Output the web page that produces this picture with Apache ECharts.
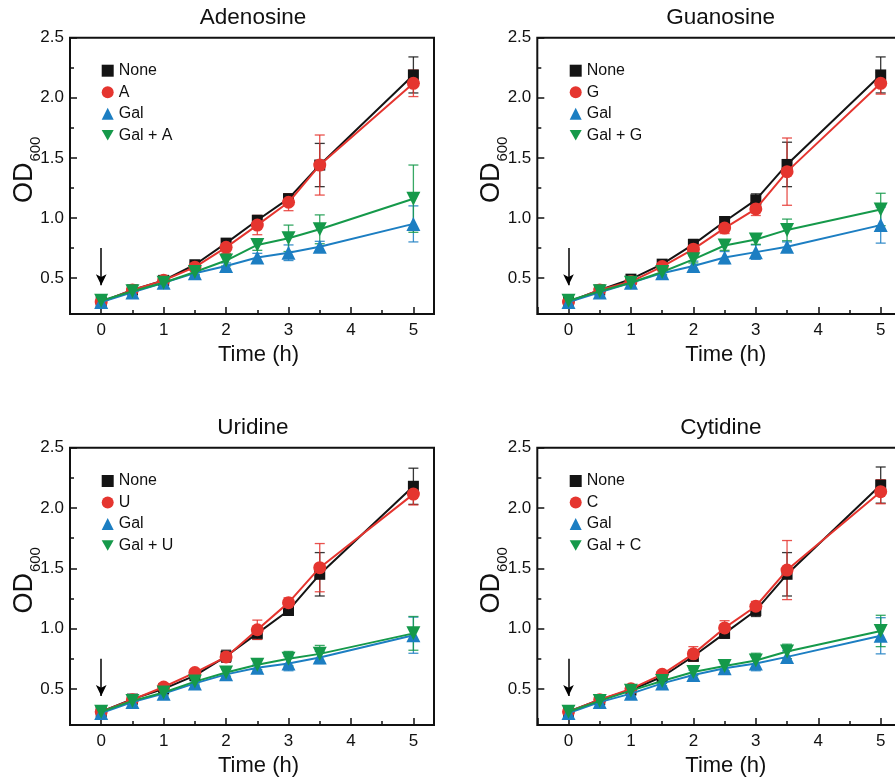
<!DOCTYPE html>
<html><head><meta charset="utf-8">
<script src="https://cdn.jsdelivr.net/npm/echarts@6/dist/echarts.min.js"></script>
<style>html,body{margin:0;padding:0;background:#fff}#c{width:895px;height:780px}</style>
</head><body><div id="c"></div>
<script>
// ---------- data ----------
const times = [0, 0.5, 1, 1.5, 2, 2.5, 3, 3.5, 5];
const xTickLabels = [0, 1, 2, 3, 4, 5];
const yTickLabels = [0.5, 1.0, 1.5, 2.0, 2.5];
const panelTitles = ['Adenosine', 'Guanosine', 'Uridine', 'Cytidine'];
const panelSeriesNames = [
  ['None', 'A', 'Gal', 'Gal + A'],
  ['None', 'G', 'Gal', 'Gal + G'],
  ['None', 'U', 'Gal', 'Gal + U'],
  ['None', 'C', 'Gal', 'Gal + C']
];
// arrow marking addition time: [x, top, tip]
const arrowMark = [0, 0.75, 0.44];

// Adenosine
const adeNone   = [0.30, 0.40, 0.48, 0.61, 0.79, 0.98, 1.16, 1.44, 2.19];
const adeNoneSd = [0.01, 0.02, 0.02, 0.02, 0.03, 0.04, 0.04, 0.18, 0.15];
const adeA      = [0.30, 0.40, 0.48, 0.59, 0.755, 0.94, 1.13, 1.44, 2.12];
const adeASd    = [0.01, 0.02, 0.02, 0.02, 0.05, 0.08, 0.07, 0.25, 0.11];
const adeGal    = [0.30, 0.38, 0.46, 0.54, 0.60, 0.67, 0.71, 0.76, 0.95];
const adeGalSd  = [0.01, 0.01, 0.02, 0.02, 0.025, 0.035, 0.065, 0.045, 0.15];
const adeGalA   = [0.31, 0.39, 0.46, 0.55, 0.645, 0.775, 0.83, 0.905, 1.16];
const adeGalASd = [0.01, 0.02, 0.02, 0.02, 0.045, 0.045, 0.11, 0.12, 0.28];

// Guanosine
const guaNone   = [0.30, 0.40, 0.49, 0.615, 0.78, 0.97, 1.15, 1.445, 2.19];
const guaNoneSd = [0.01, 0.02, 0.02, 0.02, 0.04, 0.04, 0.05, 0.185, 0.15];
const guaG      = [0.30, 0.40, 0.47, 0.595, 0.74, 0.915, 1.075, 1.385, 2.12];
const guaGSd    = [0.01, 0.02, 0.02, 0.02, 0.04, 0.045, 0.055, 0.28, 0.09];
const guaGal    = [0.30, 0.38, 0.46, 0.54, 0.60, 0.67, 0.715, 0.76, 0.94];
const guaGalSd  = [0.01, 0.01, 0.02, 0.02, 0.04, 0.05, 0.06, 0.04, 0.15];
const guaGalG   = [0.31, 0.39, 0.46, 0.55, 0.655, 0.77, 0.82, 0.90, 1.07];
const guaGalGSd = [0.01, 0.02, 0.02, 0.02, 0.03, 0.04, 0.04, 0.09, 0.135];

// Uridine
const uriNone   = [0.31, 0.415, 0.50, 0.61, 0.77, 0.96, 1.15, 1.45, 2.18];
const uriNoneSd = [0.01, 0.02, 0.02, 0.02, 0.05, 0.05, 0.04, 0.18, 0.15];
const uriU      = [0.31, 0.41, 0.515, 0.635, 0.765, 0.99, 1.215, 1.505, 2.115];
const uriUSd    = [0.01, 0.02, 0.02, 0.02, 0.04, 0.08, 0.04, 0.20, 0.09];
const uriGal    = [0.30, 0.39, 0.46, 0.545, 0.62, 0.675, 0.71, 0.76, 0.945];
const uriGalSd  = [0.01, 0.02, 0.02, 0.02, 0.04, 0.03, 0.06, 0.05, 0.15];
const uriGalU   = [0.31, 0.40, 0.47, 0.56, 0.635, 0.70, 0.75, 0.79, 0.96];
const uriGalUSd = [0.01, 0.02, 0.02, 0.02, 0.03, 0.04, 0.06, 0.07, 0.14];

// Cytidine
const cytNone   = [0.31, 0.41, 0.49, 0.60, 0.77, 0.96, 1.15, 1.45, 2.19];
const cytNoneSd = [0.01, 0.02, 0.02, 0.02, 0.04, 0.04, 0.05, 0.18, 0.15];
const cytC      = [0.31, 0.41, 0.50, 0.62, 0.79, 1.005, 1.185, 1.485, 2.135];
const cytCSd    = [0.01, 0.02, 0.02, 0.02, 0.06, 0.06, 0.04, 0.245, 0.10];
const cytGal    = [0.30, 0.39, 0.46, 0.545, 0.615, 0.67, 0.71, 0.765, 0.94];
const cytGalSd  = [0.01, 0.02, 0.02, 0.02, 0.04, 0.04, 0.06, 0.05, 0.15];
const cytGalC   = [0.31, 0.40, 0.485, 0.565, 0.64, 0.69, 0.735, 0.81, 0.98];
const cytGalCSd = [0.01, 0.02, 0.02, 0.02, 0.03, 0.04, 0.06, 0.06, 0.13];

const panelValues = [
  [adeNone, adeA, adeGal, adeGalA],
  [guaNone, guaG, guaGal, guaGalG],
  [uriNone, uriU, uriGal, uriGalU],
  [cytNone, cytC, cytGal, cytGalC]
];
const panelSd = [
  [adeNoneSd, adeASd, adeGalSd, adeGalASd],
  [guaNoneSd, guaGSd, guaGalSd, guaGalGSd],
  [uriNoneSd, uriUSd, uriGalSd, uriGalUSd],
  [cytNoneSd, cytCSd, cytGalSd, cytGalCSd]
];

// ---------- styling / layout ----------
const FONT = '"Liberation Sans", Arial, Helvetica, sans-serif';
const INK = '#111111';
const colors = ['#141414', '#e5352f', '#1c7ec2', '#15994a'];
const symbols = ['rect', 'circle', 'triangle', 'triangle'];
const symbolSizes = [11, 13, 14, 14];
const symbolRotates = [0, 0, 0, 180];
const legendIcons = ['rect', 'circle', 'triangle', 'path://M0,0L12,0L6,10.4Z'];
const Y_MIN = 0.2, Y_MAX = 2.5, X_MIN = -0.5, X_MAX = 5.33;

const layouts = [
  {left: 70,    top: 37.7,  width: 364, height: 276.3, titleX: 253,   titleY: 17.7,  legL: 101.7, legT: 62.7},
  {left: 537.3, top: 37.7,  width: 364, height: 276.3, titleX: 720.7, titleY: 17.7,  legL: 569.7, legT: 62.7},
  {left: 70,    top: 447.7, width: 364, height: 277.3, titleX: 252.8, titleY: 427.5, legL: 101.7, legT: 473},
  {left: 537.3, top: 447.7, width: 364, height: 277.3, titleX: 720.8, titleY: 427.5, legL: 569.7, legT: 473}
];

const grids = [], xAxes = [], yAxes = [], series = [], legends = [], graphics = [];

const xFmt = v => (Math.abs(v - Math.round(v)) < 1e-6 && xTickLabels.indexOf(Math.round(v)) >= 0) ? String(Math.round(v)) : '';
const yFmt = v => {
  const hit = yTickLabels.find(t => Math.abs(t - v) < 1e-6);
  return hit === undefined ? '' : hit.toFixed(1);
};

function errRenderer(color) {
  return function (params, api) {
    const x = api.value(0), lo = api.value(1), hi = api.value(2);
    const a = api.coord([x, lo]), b = api.coord([x, hi]);
    const w = 5;
    const st = {stroke: color, lineWidth: 1.3, opacity: 0.85};
    return {type: 'group', children: [
      {type: 'line', shape: {x1: a[0], y1: a[1], x2: b[0], y2: b[1]}, style: st},
      {type: 'line', shape: {x1: b[0] - w, y1: b[1], x2: b[0] + w, y2: b[1]}, style: st},
      {type: 'line', shape: {x1: a[0] - w, y1: a[1], x2: a[0] + w, y2: a[1]}, style: st}
    ]};
  };
}

layouts.forEach((L, p) => {
  grids.push({left: L.left, top: L.top, width: L.width, height: L.height,
    outerBoundsMode: 'none', containLabel: false,
    show: true, borderColor: INK, borderWidth: 2, backgroundColor: 'transparent'});
  xAxes.push({type: 'value', gridIndex: p, min: X_MIN, max: X_MAX, minInterval: 1, maxInterval: 1,
    axisLine: {show: false, onZero: false},
    axisTick: {show: true, inside: true, length: 7, lineStyle: {color: INK, width: 1.5}},
    minorTick: {show: true, splitNumber: 2, length: 4, lineStyle: {color: INK, width: 1.5}},
    splitLine: {show: false}, minorSplitLine: {show: false},
    axisLabel: {margin: 8, fontSize: 17, color: INK, fontFamily: FONT, formatter: xFmt},
    name: 'Time (h)', nameLocation: 'middle', nameGap: 30, nameMoveOverlap: false,
    nameTextStyle: {fontSize: 22, color: INK, fontFamily: FONT, padding: [0, 0, 0, 13]}
  });
  yAxes.push({type: 'value', gridIndex: p, min: Y_MIN, max: Y_MAX, minInterval: 0.5, maxInterval: 0.5,
    axisLine: {show: false, onZero: false},
    axisTick: {show: true, inside: true, length: 7, lineStyle: {color: INK, width: 1.5}},
    splitLine: {show: false},
    axisLabel: {margin: 6, fontSize: 17, color: INK, fontFamily: FONT, formatter: yFmt},
    name: '{a|OD}{b|600}', nameLocation: 'middle', nameGap: 32, nameRotate: 90, nameMoveOverlap: false,
    nameTextStyle: {padding: [0, 0, 0, 12], rich: {
      a: {fontSize: 27, lineHeight: 27, fontFamily: FONT, color: INK, verticalAlign: 'top'},
      b: {fontSize: 15, lineHeight: 15, fontFamily: FONT, color: INK, verticalAlign: 'top', padding: [17, 0, 0, 1]}
    }}
  });
  graphics.push({type: 'text', x: L.titleX, y: L.titleY, silent: true,
    style: {text: panelTitles[p], font: '22.5px ' + FONT, fill: INK, textAlign: 'center', textVerticalAlign: 'middle'}});

  const names = panelSeriesNames[p];
  legends.push({orient: 'vertical', left: L.legL, top: L.legT, itemWidth: 12, itemHeight: 12, itemGap: 5.5,
    selectedMode: false, padding: 0,
    textStyle: {fontSize: 16, lineHeight: 16, color: INK, fontFamily: FONT},
    data: names.map((n, k) => ({name: n, icon: legendIcons[k], itemStyle: {color: colors[k]}}))
  });

  names.forEach((n, k) => {
    const vals = panelValues[p][k], sd = panelSd[p][k];
    series.push({type: 'custom', xAxisIndex: p, yAxisIndex: p, z: 1,
      renderItem: errRenderer(colors[k]), encode: {x: 0, y: [1, 2]},
      data: times.map((t, i) => [t, vals[i] - sd[i], vals[i] + sd[i]])});
  });
  names.forEach((n, k) => {
    const vals = panelValues[p][k];
    const s = {type: 'line', name: n, xAxisIndex: p, yAxisIndex: p, z: 3 + k,
      data: times.map((t, i) => [t, vals[i]]),
      symbol: symbols[k], symbolSize: symbolSizes[k], symbolRotate: symbolRotates[k], showSymbol: true,
      itemStyle: {color: colors[k], opacity: 1}, lineStyle: {color: colors[k], width: 2},
      emphasis: {disabled: true}, clip: false};
    if (k === 0) {
      s.markLine = {silent: true, symbol: ['none', 'arrow'], symbolSize: [8, 11],
        label: {show: false}, lineStyle: {color: '#000', width: 1.5, type: 'solid'},
        emphasis: {disabled: true},
        data: [[{coord: [arrowMark[0], arrowMark[1]]}, {coord: [arrowMark[0], arrowMark[2]]}]]};
    }
    series.push(s);
  });
});

// secondary grids carrying the minor y ticks (0.25 steps from 0.5 upward)
layouts.forEach((L, p) => {
  const h = L.height * (Y_MAX - 0.5) / (Y_MAX - Y_MIN);
  grids.push({left: L.left, top: L.top, width: L.width, height: h, show: false,
    outerBoundsMode: 'none', containLabel: false});
  xAxes.push({type: 'value', gridIndex: 4 + p, min: 0, max: 1, show: false});
  yAxes.push({type: 'value', gridIndex: 4 + p, min: 0.5, max: Y_MAX, interval: 0.25,
    axisLine: {show: false, onZero: false}, axisLabel: {show: false}, splitLine: {show: false},
    axisTick: {show: true, inside: true, length: 4, lineStyle: {color: INK, width: 1.5}}});
});

const chart = echarts.init(document.getElementById('c'), null, {renderer: 'canvas'});
chart.setOption({
  animation: false,
  backgroundColor: '#ffffff',
  textStyle: {fontFamily: FONT},
  grid: grids, xAxis: xAxes, yAxis: yAxes, legend: legends, series: series,
  graphic: graphics
});
</script></body></html>
